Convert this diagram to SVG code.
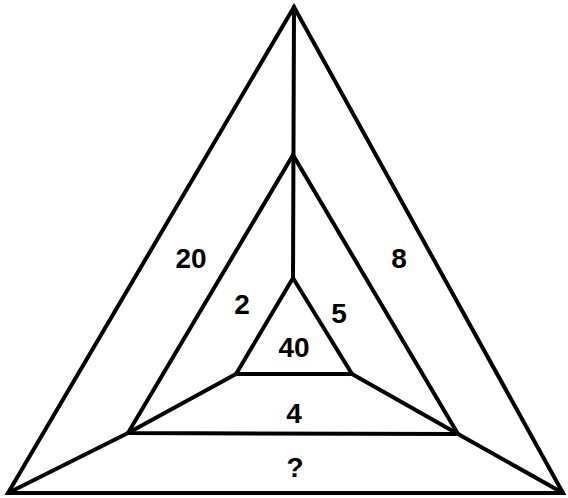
<svg xmlns="http://www.w3.org/2000/svg" width="568" height="498" viewBox="0 0 568 498">
<style>
.ln{fill:none;stroke:#000;stroke-width:4;stroke-linejoin:miter;stroke-linecap:round}
.t{font-family:"Liberation Sans",Arial,sans-serif;font-weight:bold;font-size:28px;fill:#000;text-anchor:middle}
</style>
<rect width="568" height="498" fill="#fff"/>
<g id="outer"><polygon class="ln" points="294,7 8,493 563,493"/></g>
<g id="middle"><polygon class="ln" points="293,155 128,433 458,434"/></g>
<g id="inner"><polygon class="ln" points="293,278 236,374 352,374"/></g>
<g id="connectors">
<line class="ln" x1="294" y1="7" x2="293" y2="278"/>
<line class="ln" x1="8" y1="493" x2="128" y2="433"/>
<line class="ln" x1="128" y1="433" x2="236" y2="374"/>
<line class="ln" x1="563" y1="493" x2="458" y2="434"/>
<line class="ln" x1="458" y1="434" x2="352" y2="374"/>
</g>
<g id="labels">
<text class="t" x="191" y="268">20</text>
<text class="t" x="399" y="268">8</text>
<text class="t" x="242" y="314">2</text>
<text class="t" x="339" y="323">5</text>
<text class="t" x="294" y="357">40</text>
<text class="t" x="294" y="423">4</text>
<text class="t" x="295" y="477">?</text>
</g>
</svg>
